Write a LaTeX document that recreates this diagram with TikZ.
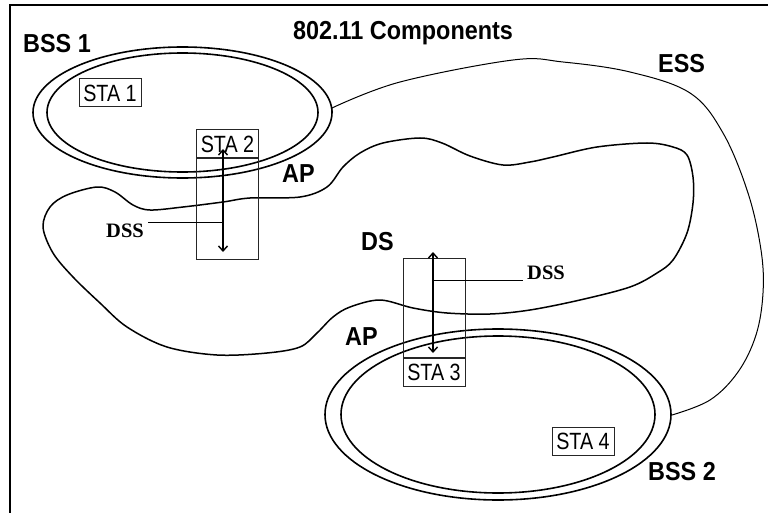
\documentclass[tikz,border=0pt]{standalone}
\usepackage{fontspec}
\setmainfont{Liberation Sans}
\newfontfamily\lblfont[FakeStretch=0.9]{Liberation Sans}
\newfontfamily\stafont[FakeStretch=0.84]{Liberation Sans}
\newfontfamily\dssfont{Liberation Serif}
\usetikzlibrary{shapes.geometric,arrows.meta}
\begin{document}
\begin{tikzpicture}[x=1pt,y=-1pt,
  biglbl/.style={inner sep=0pt,anchor=base west,font=\lblfont\bfseries\fontsize{26}{26}\selectfont},
  dsslbl/.style={inner sep=0pt,anchor=base west,font=\dssfont\bfseries\fontsize{20.5}{20.5}\selectfont},
  stabox/.style={draw=black!85,line width=1pt,inner sep=0pt,minimum width=62pt,minimum height=28pt,font=\stafont\fontsize{23.5}{23.5}\selectfont},
  apbox/.style={draw=black!85,line width=1pt,inner sep=0pt,minimum width=62pt},
  ring/.style={ellipse,draw,line width=1.6pt,inner sep=0pt,outer sep=0pt},
  dssarrow/.style={line width=2pt,{Straight Barb[length=5pt,width=9pt,line width=1.4pt]}-{Straight Barb[length=5pt,width=9pt,line width=1.4pt]}},
  leader/.style={line width=0.8pt},
  curve/.style={line width=1.5pt,line join=round}
]
\useasboundingbox (0,0) rectangle (768,513);
% frame
\draw[line width=2pt] (10,513) -- (10,5) -- (768,5);

% BSS ellipses
\node[ring,minimum width=299pt,minimum height=131pt] (bss1o) at (182.5,112.5) {};
\node[ring,minimum width=271pt,minimum height=119pt] (bss1i) at (182.5,112.5) {};
\node[ring,minimum width=346pt,minimum height=171pt] (bss2o) at (498,414.5) {};
\node[ring,minimum width=314pt,minimum height=157pt] (bss2i) at (498,414.5) {};

% DS blob
\draw[curve] plot[smooth cycle,tension=0.55] coordinates {
 (43,227) (50,207) (67,195) (97,187) (115,192) (133,205) (150,210) (183,207)
 (223,202) (250,198) (300,197) (327,187) (343,167) (360,153) (383,143) (420,138)
 (442,143) (470,156) (503,165) (530,162) (553,157) (597,147) (647,143) (673,147)
 (687,155) (693,177) (693,203) (687,233) (673,260) (657,273) (630,287) (580,300)
 (530,310) (490,314) (447,313) (413,308) (380,300) (350,307) (333,317) (317,333)
 (300,347) (267,353) (217,355) (167,347) (127,327) (100,303) (73,277) (53,253)};

% ESS curve
\draw[line width=1pt] (bss1o.east) to[out=-5,in=180] (332,108)
  plot[smooth,tension=0.6] coordinates {(332,108) (400,82) (513,60) (563,62) (630,72)
  (690,93) (723,133) (748,193) (761,250) (763,293) (756,335) (738,372) (710,400) (672,415)};

% stations
\node[stabox] (sta1) at (110,93) {STA 1};
\node[stabox] (sta2) at (227.5,144) {STA 2};
\node[apbox,minimum height=100pt,anchor=north] (ap2) at (sta2.south) {};
\node[stabox] (sta3) at (434,372) {STA 3};
\node[apbox,minimum height=99pt,anchor=south] (ap3) at (sta3.north) {};
\node[stabox] (sta4) at (583,441.5) {STA 4};

% DSS arrows
\coordinate (a2t) at (223,149);
\coordinate (a2b) at (223,252);
\coordinate (a3t) at (433,252);
\coordinate (a3b) at (433,353);
\draw[dssarrow] (a2t) -- (a2b);
\draw[dssarrow] (a3t) -- (a3b);

% labels
\node[biglbl] (title) at (293,40) {802.11 Components};
\node[biglbl] (lbss1) at (23,53) {BSS 1};
\node[biglbl] (less) at (658,73) {ESS};
\node[biglbl] (lap1) at (282,183) {AP};
\node[biglbl] (lds) at (361,251) {DS};
\node[biglbl] (lap2) at (345,345) {AP};
\node[biglbl] (lbss2) at (648,480) {BSS 2};
\node[dsslbl] (dss1) at (106,237) {DSS};
\node[dsslbl] (dss2) at (527,279) {DSS};

% leaders
\coordinate (l1a) at (148,222);
\coordinate (l1b) at (223,222);
\coordinate (l2a) at (433,280);
\coordinate (l2b) at (523,280);
\draw[leader] (l1a) -- (l1b);
\draw[leader] (l2a) -- (l2b);
\end{tikzpicture}
\end{document}
